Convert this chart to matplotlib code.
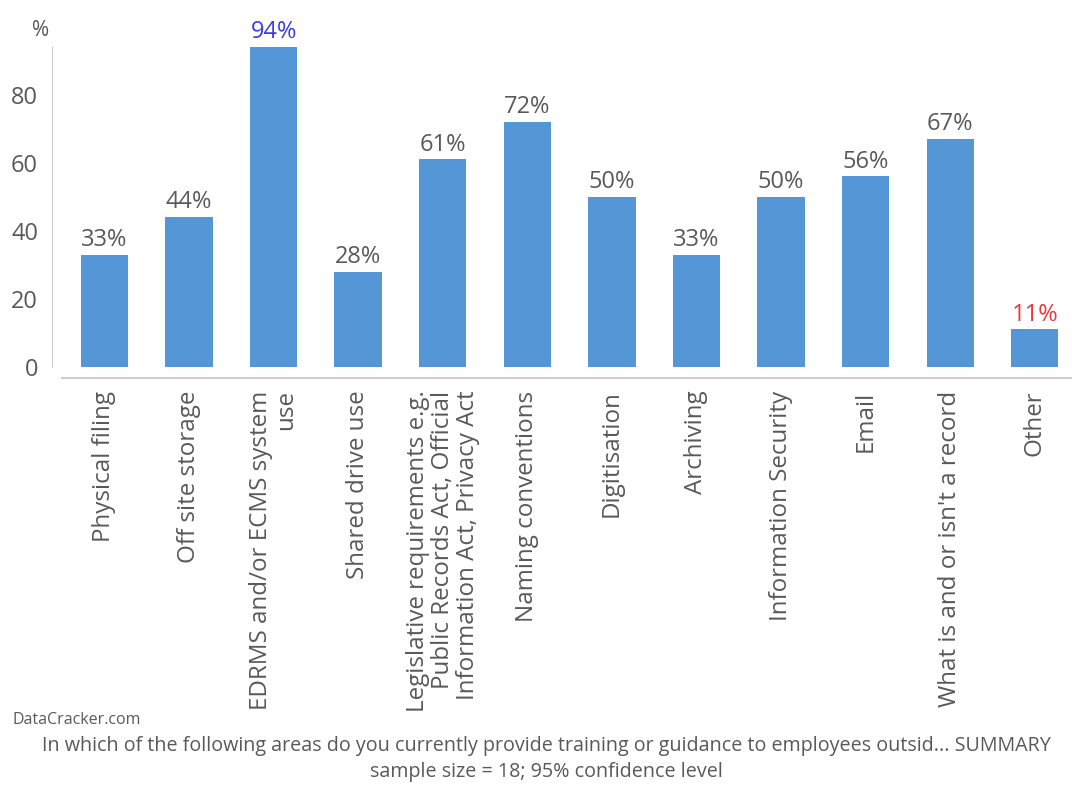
import matplotlib.pyplot as plt

# survey results: share of respondents (%)
categories = [
    "Physical filing",
    "Off site storage",
    "EDRMS and/or ECMS system\nuse",
    "Shared drive use",
    "Legislative requirements e.g.\nPublic Records Act, Official\nInformation Act, Privacy Act",
    "Naming conventions",
    "Digitisation",
    "Archiving",
    "Information Security",
    "Email",
    "What is and or isn't a record",
    "Other",
]
values = [33, 44, 94, 28, 61, 72, 50, 33, 50, 56, 67, 11]
yticks = [0, 20, 40, 60, 80]

bar_color = "#5496d6"
text_gray = "#595959"
axis_gray = "#cccccc"
max_color = "#3a3ae8"
min_color = "#e8383a"

plt.rcParams["font.family"] = ["Open Sans", "DejaVu Sans"]

fig = plt.figure(figsize=(10.72, 7.86), dpi=100)
ax = fig.add_axes([52 / 1072, 1 - 378 / 786, 1 - 52 / 1072, (378 - 47) / 786])

x = list(range(len(categories)))
ax.bar(x, values, width=0.56, color=bar_color)

ax.set_xlim(-0.62, 11.44)
ax.set_ylim(-3.3, 94)

# value labels, highest in blue and lowest in red
vmax, vmin = max(values), min(values)
for xi, v in zip(x, values):
    c = text_gray
    if v == vmax:
        c = max_color
    elif v == vmin:
        c = min_color
    ax.text(xi, v + 0.8, f"{v}%", ha="center", va="bottom", fontsize=17, color=c)

ax.set_yticks(yticks)
ax.set_yticklabels([str(t) for t in yticks], fontsize=17, color=text_gray)
ax.set_xticks(x)
ax.set_xticklabels(categories, rotation=90, fontsize=17.4, color=text_gray,
                   va="top", ha="center", multialignment="right",
                   linespacing=1.05)
ax.tick_params(axis="both", length=0)
ax.tick_params(axis="y", pad=10)
ax.tick_params(axis="x", pad=9)

for side in ["top", "right"]:
    ax.spines[side].set_visible(False)
ax.spines["left"].set_color(axis_gray)
ax.spines["left"].set_bounds(0, 94)
ax.spines["bottom"].set_color(axis_gray)
ax.spines["bottom"].set_linewidth(1.5)
ax.spines["bottom"].set_bounds(-0.5, 11.5)

fig.text(41 / 1072, 1 - 30 / 786, "%", ha="center", va="center",
         fontsize=15, color=text_gray)

fig.text(12 / 1072, 1 - 720 / 786, "DataCracker.com", ha="left", va="center",
         fontsize=11.5, color=text_gray)
fig.text(546 / 1072, 1 - 746 / 786,
         "In which of the following areas do you currently provide training or guidance to employees outsid... SUMMARY",
         ha="center", va="center", fontsize=14.2, color=text_gray)
fig.text(546 / 1072, 1 - 772 / 786, "sample size = 18; 95% confidence level",
         ha="center", va="center", fontsize=14.2, color=text_gray)

fig.savefig("out.png", dpi=100)
